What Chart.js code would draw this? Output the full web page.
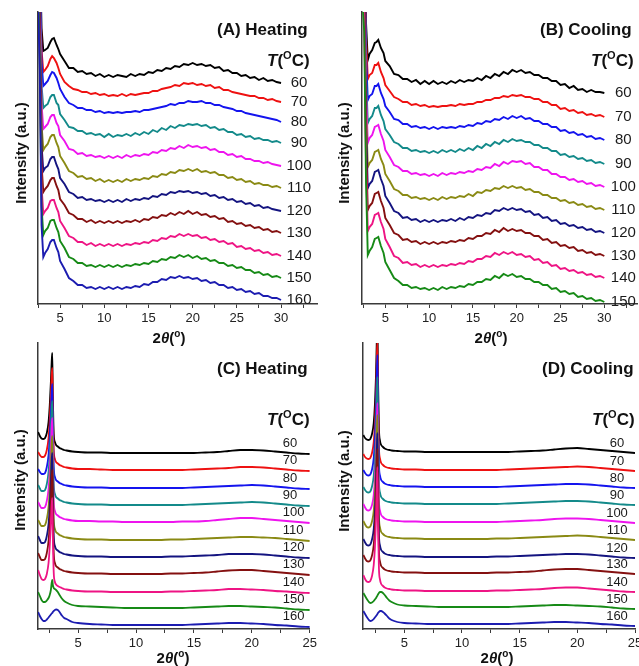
<!DOCTYPE html>
<html>
<head>
<meta charset="utf-8">
<script src="https://cdn.jsdelivr.net/npm/chart.js@4.4.1/dist/chart.umd.min.js"></script>
<style>
html, body { margin: 0; padding: 0; width: 639px; height: 666px; overflow: hidden; background: #fff; }
body { position: relative; font-family: "Liberation Sans", Arial, sans-serif; color: #111; }
.panel { position: absolute; }
.t { position: absolute; font-weight: bold; white-space: nowrap; line-height: 1; }
.head { font-size: 17px; }
.head sup { font-size: 11px; vertical-align: 7px; }
.ax { font-size: 15px; }
.ax sup { font-size: 10px; vertical-align: 6px; }
.rot { transform: translate(-50%, -50%) rotate(-90deg); }
.ctr { transform: translate(-50%, -50%); }
</style>
</head>
<body>
<div class="panel" style="left:0;top:0;width:320px;height:345px"><canvas id="cA"></canvas></div>
<div class="panel" style="left:320px;top:0;width:319px;height:345px"><canvas id="cB"></canvas></div>
<div class="panel" style="left:0;top:335px;width:320px;height:331px"><canvas id="cC"></canvas></div>
<div class="panel" style="left:320px;top:335px;width:330px;height:331px"><canvas id="cD"></canvas></div>

<div class="t head" style="left:217px;top:21px">(A) Heating</div>
<div class="t head" style="left:267px;top:50px"><i>T</i>(<sup>O</sup>C)</div>
<div class="t head" style="left:540px;top:21px">(B) Cooling</div>
<div class="t head" style="left:591px;top:50px"><i>T</i>(<sup>O</sup>C)</div>
<div class="t head" style="left:217px;top:360px">(C) Heating</div>
<div class="t head" style="left:267px;top:409px"><i>T</i>(<sup>O</sup>C)</div>
<div class="t head" style="left:542px;top:360px">(D) Cooling</div>
<div class="t head" style="left:592px;top:409px"><i>T</i>(<sup>O</sup>C)</div>

<div class="t ax rot" style="left:20px;top:153px">Intensity (a.u.)</div>
<div class="t ax rot" style="left:343px;top:153px">Intensity (a.u.)</div>
<div class="t ax rot" style="left:19px;top:480px">Intensity (a.u.)</div>
<div class="t ax rot" style="left:343px;top:481px">Intensity (a.u.)</div>
<div class="t ax ctr" style="left:169px;top:337px">2<i>θ</i>(<sup>o</sup>)</div>
<div class="t ax ctr" style="left:491px;top:337px">2<i>θ</i>(<sup>o</sup>)</div>
<div class="t ax ctr" style="left:173px;top:657px">2<i>θ</i>(<sup>o</sup>)</div>
<div class="t ax ctr" style="left:497px;top:657px">2<i>θ</i>(<sup>o</sup>)</div>

<script>
// temperatures (curve labels)
const tempsHeat = ['60', '70', '80', '90', '100', '110', '120', '130', '140', '150', '160'];
const tempsCoolB = ['60', '70', '80', '90', '100', '110', '120', '130', '140', '150'];

const colors = ['#000000', '#ee1111', '#1414ee', '#138a8a', '#ee14ee', '#8a8a14',
                '#141480', '#841010', '#ee1484', '#168a16', '#1c1cb0'];

// ---- (A) heating, low angle range: 2theta positions
const xA = [2.5, 2.7, 2.9, 3.1, 3.3, 3.6, 3.9, 4.1, 4.3, 4.6,
  4.8, 5, 5.5, 6, 6.5, 7, 7.5, 8, 8.5, 9,
  9.5, 10, 10.5, 11, 11.5, 12, 12.5, 13, 13.5, 14,
  14.5, 15, 15.5, 16, 16.5, 17, 17.5, 18, 18.5, 19,
  19.5, 20, 20.5, 21, 21.5, 22, 22.5, 23, 23.5, 24,
  24.5, 25, 25.5, 26, 26.5, 27, 27.5, 28, 28.5, 29,
  29.5, 30];
// level of each trace at 30 deg (stacked)
const endA = [221, 202, 182, 161, 138, 116, 93, 71, 48, 26, 4];
// intensity above that level
const A60 = [300, 140, 55, 32, 33, 35, 41, 44, 45, 38,
  34, 29, 22, 15, 15, 11, 12, 9, 10, 7,
  9, 6, 8, 6, 8, 7, 6, 9, 7, 9,
  8, 11, 10, 13, 12, 15, 14, 17, 16, 19,
  18, 20, 18, 19, 17, 18, 15, 16, 12, 13,
  10, 10, 7, 8, 5, 6, 3, 5, 2, 3,
  1, 0];
const A70 = [300, 150, 52, 30, 32, 36, 43, 46, 44, 39,
  34, 28, 20, 16, 13, 12, 10, 10, 8, 9,
  7, 8, 6, 7, 6, 8, 6, 8, 7, 8,
  9, 9, 11, 11, 13, 14, 15, 17, 16, 19,
  18, 19, 17, 18, 16, 17, 14, 15, 12, 12,
  10, 9, 8, 7, 6, 6, 4, 4, 2, 3,
  1, 0];
const A80 = [300, 160, 60, 36, 38, 41, 47, 50, 49, 44,
  39, 33, 25, 19, 17, 14, 14, 12, 12, 10,
  11, 9, 10, 9, 10, 9, 10, 10, 11, 10,
  12, 12, 13, 14, 15, 16, 18, 17, 19, 19,
  21, 20, 20, 21, 19, 19, 17, 17, 15, 14,
  13, 11, 11, 9, 8, 7, 6, 5, 4, 3,
  2, 0];
const A90 = [300, 160, 58, 35, 37, 39, 46, 48, 48, 40,
  38, 29, 23, 16, 15, 12, 12, 9, 10, 8,
  9, 6, 9, 6, 8, 7, 9, 7, 10, 8,
  11, 9, 13, 11, 15, 13, 17, 15, 18, 17,
  19, 18, 19, 17, 18, 15, 16, 13, 14, 11,
  11, 8, 9, 6, 7, 4, 5, 3, 3, 1,
  2, 0];
const A100 = [300, 170, 62, 37, 39, 42, 49, 51, 51, 43,
  40, 31, 25, 17, 16, 12, 13, 10, 11, 9,
  10, 8, 10, 8, 10, 8, 11, 9, 11, 10,
  12, 11, 14, 13, 16, 15, 18, 17, 20, 18,
  21, 19, 20, 18, 19, 16, 17, 14, 14, 11,
  12, 9, 10, 7, 7, 5, 5, 3, 4, 2,
  1, 0];
const A110 = [300, 180, 64, 38, 41, 44, 51, 53, 53, 45,
  41, 32, 25, 17, 15, 11, 12, 9, 10, 7,
  9, 6, 8, 6, 8, 6, 9, 7, 9, 8,
  10, 9, 12, 11, 14, 13, 16, 15, 18, 17,
  19, 17, 19, 16, 17, 15, 16, 13, 13, 10,
  11, 8, 9, 6, 7, 4, 5, 3, 3, 1,
  2, 0];
const A120 = [300, 190, 66, 40, 43, 45, 52, 54, 54, 46,
  42, 33, 27, 19, 17, 13, 14, 11, 12, 10,
  11, 9, 11, 9, 11, 9, 12, 10, 12, 11,
  13, 12, 15, 14, 17, 16, 19, 18, 20, 19,
  20, 18, 19, 17, 18, 15, 16, 13, 14, 11,
  12, 9, 10, 7, 8, 5, 6, 3, 4, 2,
  1, 0];
const A130 = [300, 200, 68, 41, 44, 47, 53, 55, 55, 47,
  43, 34, 28, 20, 18, 14, 14, 11, 13, 10,
  12, 10, 12, 10, 12, 10, 12, 11, 13, 11,
  14, 13, 16, 15, 18, 17, 20, 18, 21, 19,
  22, 19, 21, 18, 19, 16, 17, 14, 15, 11,
  12, 9, 10, 7, 8, 5, 6, 3, 4, 1,
  2, 0];
const A140 = [300, 210, 70, 42, 45, 48, 55, 56, 56, 48,
  44, 35, 28, 20, 18, 14, 14, 11, 13, 10,
  12, 10, 12, 10, 12, 10, 12, 11, 13, 12,
  14, 13, 16, 15, 18, 17, 20, 19, 22, 20,
  22, 20, 21, 18, 19, 16, 17, 14, 15, 12,
  13, 9, 10, 7, 8, 5, 6, 3, 4, 1,
  2, 0];
const A150 = [300, 220, 72, 43, 47, 50, 57, 58, 58, 50,
  46, 37, 30, 21, 19, 15, 15, 12, 13, 11,
  13, 11, 13, 11, 13, 11, 13, 12, 14, 13,
  15, 14, 17, 16, 19, 18, 21, 20, 23, 21,
  23, 20, 22, 19, 20, 17, 18, 15, 15, 12,
  13, 10, 11, 8, 8, 5, 6, 3, 4, 1,
  2, 0];
const A160 = [300, 230, 75, 43, 47, 51, 58, 60, 60, 52,
  48, 39, 31, 22, 19, 15, 15, 12, 13, 11,
  13, 11, 13, 11, 13, 11, 13, 12, 14, 13,
  16, 15, 18, 18, 21, 20, 23, 22, 24, 22,
  23, 21, 22, 19, 20, 17, 18, 15, 15, 12,
  13, 10, 11, 8, 9, 6, 7, 4, 4, 2,
  2, 0];

// ---- (B) cooling
const xB = [2.4, 2.6, 2.8, 3.0, 3.2, 3.5, 3.8, 4.0, 4.2, 4.5,
  4.8, 5, 5.5, 6, 6.5, 7, 7.5, 8, 8.5, 9,
  9.5, 10, 10.5, 11, 11.5, 12, 12.5, 13, 13.5, 14,
  14.5, 15, 15.5, 16, 16.5, 17, 17.5, 18, 18.5, 19,
  19.5, 20, 20.5, 21, 21.5, 22, 22.5, 23, 23.5, 24,
  24.5, 25, 25.5, 26, 26.5, 27, 27.5, 28, 28.5, 29,
  29.5, 30];
const endB = [211, 187, 164, 140, 117, 94, 71, 48, 26, 2];
const B60 = [300, 180, 70, 33, 39, 43, 50, 51, 53, 45,
  40, 32, 27, 19, 18, 14, 14, 11, 13, 9,
  12, 9, 12, 9, 11, 9, 12, 10, 13, 11,
  13, 12, 15, 13, 17, 15, 19, 17, 21, 19,
  23, 21, 23, 20, 21, 18, 18, 15, 15, 12,
  12, 8, 9, 5, 7, 3, 4, 1, 3, 1,
  1, 0];
const B70 = [300, 190, 80, 38, 42, 44, 52, 52, 54, 45,
  39, 32, 26, 20, 18, 15, 15, 12, 13, 11,
  12, 10, 11, 10, 11, 11, 12, 11, 13, 12,
  13, 13, 15, 15, 17, 17, 19, 19, 21, 20,
  22, 21, 22, 20, 20, 18, 18, 15, 15, 12,
  12, 8, 9, 6, 7, 4, 5, 2, 3, 1,
  2, 0];
const B80 = [300, 200, 85, 40, 44, 46, 54, 54, 56, 47,
  41, 34, 28, 21, 20, 16, 16, 13, 14, 12,
  13, 11, 13, 11, 13, 12, 13, 12, 14, 13,
  15, 14, 17, 16, 19, 18, 21, 20, 23, 21,
  24, 22, 24, 21, 22, 19, 19, 16, 16, 13,
  13, 9, 10, 7, 8, 5, 6, 3, 4, 1,
  2, 0];
const B90 = [300, 210, 90, 41, 45, 48, 56, 56, 58, 49,
  43, 35, 29, 22, 20, 16, 16, 13, 14, 12,
  13, 11, 13, 11, 14, 12, 14, 12, 15, 13,
  16, 14, 18, 16, 20, 18, 22, 20, 24, 22,
  25, 23, 24, 22, 22, 19, 19, 16, 16, 13,
  13, 9, 10, 7, 8, 5, 6, 3, 4, 1,
  2, 0];
const B100 = [300, 220, 95, 44, 49, 52, 60, 61, 62, 53,
  46, 37, 30, 22, 20, 16, 16, 13, 14, 12,
  13, 11, 13, 11, 14, 12, 14, 13, 15, 14,
  16, 15, 18, 17, 20, 19, 23, 21, 25, 23,
  26, 25, 26, 23, 24, 20, 20, 17, 17, 13,
  13, 10, 10, 7, 8, 5, 6, 3, 4, 1,
  2, 0];
const B110 = [300, 230, 100, 43, 47, 50, 58, 59, 60, 51,
  45, 36, 29, 21, 19, 15, 15, 12, 13, 11,
  12, 10, 12, 10, 13, 11, 13, 12, 14, 13,
  16, 14, 18, 17, 20, 19, 22, 21, 24, 22,
  24, 22, 23, 20, 21, 18, 18, 15, 15, 12,
  12, 9, 10, 7, 8, 5, 6, 3, 4, 1,
  2, 0];
const B120 = [300, 240, 105, 45, 49, 52, 61, 62, 63, 54,
  47, 37, 30, 22, 20, 15, 16, 13, 14, 11,
  13, 11, 13, 11, 13, 12, 14, 12, 15, 13,
  16, 15, 18, 17, 20, 19, 23, 22, 25, 23,
  25, 23, 24, 21, 22, 18, 19, 15, 16, 12,
  13, 9, 10, 7, 8, 5, 6, 3, 4, 1,
  2, 0];
const B130 = [300, 250, 110, 46, 50, 53, 62, 63, 64, 55,
  48, 38, 31, 23, 21, 16, 17, 14, 15, 12,
  14, 12, 14, 12, 14, 13, 15, 14, 16, 15,
  18, 17, 20, 20, 23, 22, 26, 24, 28, 25,
  27, 25, 26, 23, 23, 20, 20, 16, 17, 13,
  14, 10, 11, 8, 9, 5, 6, 3, 4, 1,
  2, 0];
const B140 = [300, 260, 115, 47, 51, 54, 63, 64, 65, 56,
  49, 39, 31, 22, 20, 15, 16, 13, 14, 11,
  13, 11, 13, 11, 13, 12, 14, 13, 15, 14,
  17, 16, 19, 19, 22, 21, 25, 23, 26, 24,
  26, 23, 24, 21, 22, 18, 19, 15, 16, 12,
  13, 9, 10, 7, 8, 5, 6, 3, 4, 1,
  2, 0];
const B150 = [300, 270, 120, 47, 51, 55, 63, 64, 65, 56,
  49, 40, 32, 24, 21, 17, 17, 14, 15, 13,
  14, 12, 14, 12, 15, 13, 15, 14, 16, 15,
  18, 17, 20, 20, 23, 22, 26, 24, 28, 26,
  28, 25, 26, 23, 23, 20, 20, 17, 17, 13,
  14, 10, 11, 8, 9, 5, 6, 3, 4, 1,
  2, 0];

// ---- (C) heating, wide range
const xC = [1.55, 1.7, 1.85, 2.0, 2.15, 2.3, 2.45, 2.55, 2.65, 2.72,
  2.77, 2.82, 2.9, 3.0, 3.1, 3.25, 3.4, 3.6, 3.8, 4.0,
  4.5, 5, 6, 7, 8, 9, 10, 11, 12, 13,
  14, 15, 16, 17, 18, 19, 20, 21, 22, 23,
  24, 25];
const endC = [175, 158, 140, 123, 106, 88, 71, 54, 36, 19, 2];
const C60 = [22, 18, 15.5, 15, 16, 21, 32, 48, 72, 92, 101, 60, 20, 12, 9, 7.5, 6, 5, 4, 3.5, 2.5, 2, 1.5, 1.5, 1, 1, 1, 1, 1, 1, 1, 1, 1.5, 2, 3, 4, 4, 3.5, 2.5, 1.5, 0.5, 0];
const C70 = [19, 16, 14, 14, 15.5, 21, 33, 50, 75, 95, 103, 62, 21, 12, 9, 7.5, 6, 5, 4, 3.5, 2.5, 2, 2, 1.5, 1, 1, 1, 1, 1, 1, 1, 1.5, 2, 2.5, 3, 4, 4, 3.5, 2.5, 1.5, 0.5, 0];
const C80 = [20, 17, 15, 15, 16, 22, 34, 51, 76, 97, 105, 63, 22, 12, 9, 7.5, 6, 5, 4, 3.5, 2.5, 2, 1.5, 1.5, 1, 1, 1, 1, 1, 1, 1, 1.5, 2, 2.5, 3, 3.5, 4, 3.5, 2.5, 1.5, 0.5, 0];
const C90 = [21, 17.5, 15, 15, 16, 22, 34, 51, 76, 97, 105, 63, 22, 12, 9, 7.5, 6, 5, 4, 3.5, 2.5, 2, 1.5, 1.5, 1, 1, 1, 1, 1, 1, 1, 1.5, 2, 2.5, 3, 3.5, 4, 3.5, 2.5, 1.5, 0.5, 0];
const C100 = [21, 17.5, 15, 15, 16, 22, 34, 51, 76, 97, 105, 63, 22, 12, 9, 7.5, 6, 5, 4, 3.5, 2.5, 2, 2, 1.5, 1.5, 1, 1, 1, 1, 1, 1.5, 1.5, 2, 3, 4, 5, 5, 4, 3, 2, 1, 0];
const C110 = [21, 17.5, 15, 15, 16, 22, 34, 51, 76, 97, 105, 63, 22, 12, 9, 7.5, 6, 5, 4, 3.5, 2.5, 2, 1.5, 1.5, 1, 1, 1, 1, 1, 1.5, 1.5, 2, 2.5, 3, 3.5, 4, 4, 3.5, 3, 2, 1, 0];
const C120 = [22, 18, 15, 15, 16, 22, 34, 51, 76, 97, 105, 63, 22, 12, 9, 7.5, 6, 5, 4, 3.5, 2.5, 2, 1.5, 1.5, 1, 1, 1, 1, 1, 1.5, 1.5, 2, 2.5, 3, 4, 4, 4, 3.5, 2.5, 1.5, 0.5, 0];
const C130 = [22, 18, 15, 15, 16, 22, 34, 51, 76, 97, 105, 63, 22, 12, 9, 7.5, 6, 5, 4, 3.5, 2.5, 2, 1.5, 1.5, 1, 1, 1, 1, 1, 1.5, 1.5, 2, 2.5, 3.5, 4.5, 5, 5, 4, 3, 2, 1, 0];
const C140 = [23, 18, 14, 13, 14, 19, 30, 46, 70, 88, 95, 57, 20, 11, 8.5, 7, 6, 5, 4, 3.5, 2.5, 2, 1.5, 1.5, 1, 1, 1, 1, 1, 1.5, 1.5, 2, 2.5, 3, 4, 4, 3.5, 3, 2, 1.5, 0.5, 0];
const C150 = [18, 14, 10, 8, 8, 9.5, 12, 15, 20, 27, 30, 25, 22, 21, 20, 18, 15, 11.5, 9, 7.5, 5, 4, 3.5, 3, 2.5, 2, 2, 2, 2, 2, 2, 2.5, 3, 3.5, 4, 4, 3.5, 3, 2.5, 1.5, 0.5, 0];
const C160 = [15, 11, 8, 6, 6, 7.5, 9.5, 11, 12.5, 13.5, 14, 15, 16, 17, 17.5, 17, 15, 11.5, 9, 8, 5, 4, 3, 2.5, 2, 2, 2, 2, 2, 2, 2, 2.5, 3, 3.5, 4, 4, 3.5, 3, 2, 1.5, 0.5, 0];

// ---- (D) cooling, wide range
const xD = [1.45, 1.6, 1.75, 1.9, 2.05, 2.2, 2.35, 2.45, 2.55, 2.62,
  2.67, 2.72, 2.8, 2.9, 3.0, 3.15, 3.3, 3.5, 3.7, 3.9,
  4.4, 5, 6, 7, 8, 9, 10, 11, 12, 13,
  14, 15, 16, 17, 18, 19, 20, 21, 22, 23,
  24, 25];
const endD = [176, 158, 141, 124, 106, 89, 71, 55, 37, 20, 3];
const D60 = [18, 15, 13.5, 13, 14, 19, 30, 48, 80, 115, 135, 75, 25, 12, 8, 6, 4.5, 3.5, 3, 2.5, 2, 1.5, 1.5, 1, 1, 1, 1, 1, 1, 1, 1, 1.5, 2, 2.5, 3.5, 4.5, 5, 4, 3, 2, 1, 0];
const D70 = [17, 14, 12.5, 12, 13, 18, 29, 47, 78, 112, 130, 73, 24, 12, 8, 6, 4.5, 3.5, 3, 2.5, 2, 1.5, 1.5, 1, 1, 1, 1, 1, 1, 1, 1.5, 2, 2.5, 3, 3.5, 4, 4.5, 4, 3, 2, 1, 0];
const D80 = [18, 15, 13, 12.5, 13.5, 18.5, 30, 48, 80, 114, 133, 74, 24, 12, 8, 6, 4.5, 3.5, 3, 2.5, 2, 1.5, 1.5, 1, 1, 1, 1, 1, 1, 1, 1.5, 2, 2.5, 3, 3.5, 4, 4, 3.5, 2.5, 1.5, 0.5, 0];
const D90 = [18, 15, 13, 12.5, 13.5, 18.5, 29, 46, 77, 110, 128, 72, 24, 12, 8, 6, 4.5, 3.5, 3, 2.5, 2, 1.5, 1.5, 1, 1, 1, 1, 1, 1, 1, 1.5, 2, 2.5, 3, 3.5, 4, 4, 3.5, 2.5, 1.5, 0.5, 0];
const D100 = [19, 15.5, 13, 12.5, 13.5, 18, 28, 44, 73, 104, 120, 68, 23, 12, 8, 6, 4.5, 3.5, 3, 2.5, 2, 1.5, 1.5, 1, 1, 1, 1, 1, 1, 1, 1.5, 2, 2.5, 3, 4, 4.5, 4.5, 4, 3, 2, 1, 0];
const D110 = [19, 15.5, 13, 12.5, 13.5, 18.5, 29, 46, 76, 108, 125, 70, 24, 12, 8, 6, 4.5, 3.5, 3, 2.5, 2, 1.5, 1.5, 1, 1, 1, 1, 1, 1, 1.5, 1.5, 2, 2.5, 3, 3.5, 4, 4.5, 4, 3, 2, 1, 0];
const D120 = [19, 15.5, 13, 12.5, 13.5, 18.5, 29, 46, 76, 108, 125, 70, 24, 12, 8, 6, 4.5, 3.5, 3, 2.5, 2, 1.5, 1.5, 1, 1, 1, 1, 1, 1, 1.5, 1.5, 2, 2.5, 3, 3.5, 4, 4, 3.5, 2.5, 1.5, 0.5, 0];
const D130 = [19, 15.5, 13, 12.5, 13.5, 18.5, 29, 46, 76, 108, 125, 70, 24, 12, 8, 6, 4.5, 3.5, 3, 2.5, 2, 1.5, 1.5, 1, 1, 1, 1, 1, 1, 1.5, 1.5, 2, 2.5, 3.5, 4.5, 5, 5, 4, 3, 2, 1, 0];
const D140 = [17, 13, 10.5, 10, 11, 16, 27, 44, 75, 108, 125, 70, 24, 12, 8, 6, 4.5, 3.5, 3, 2.5, 2, 1.5, 1.5, 1, 1, 1, 1, 1, 1, 1.5, 1.5, 2, 2.5, 3, 4, 4.5, 4.5, 3.5, 2.5, 1.5, 0.5, 0];
const D150 = [16, 13, 10, 7.5, 6, 6.5, 8, 9.5, 11, 12.5, 13.5, 14.5, 16, 17, 17, 16, 14, 11, 8.5, 7, 4.5, 3.5, 3, 2.5, 2, 2, 2, 2, 2, 2, 2, 2.5, 3, 3.5, 4, 4, 3.5, 3, 2.5, 1.5, 0.5, 0];
const D160 = [15, 12, 9, 6.5, 5, 5.5, 7, 8.5, 10, 11, 12, 13, 14, 15, 15, 14, 12.5, 10, 7.5, 6, 4, 3, 2.5, 2, 2, 2, 2, 2, 2, 2, 2, 2.5, 3, 3.5, 4, 4, 3.5, 3, 2, 1.5, 0.5, 0];

Chart.defaults.font.family = '"Liberation Sans", Arial, sans-serif';

// writes the temperature next to the end of each trace
const curveLabels = {
    id: 'curveLabels',
    afterDatasetsDraw(chart, args, o) {
        const ctx = chart.ctx;
        ctx.save();
        ctx.font = o.size + 'px "Liberation Sans", Arial, sans-serif';
        ctx.fillStyle = '#1a1a1a';
        ctx.textAlign = o.align;
        ctx.textBaseline = 'middle';
        chart.data.datasets.forEach((ds, i) => {
            const pts = chart.getDatasetMeta(i).data;
            const p = pts[pts.length - 1];
            ctx.fillText(ds.label, p.x + o.dx, p.y + o.dy);
        });
        ctx.restore();
    }
};

function drawPanel(id, xs, ends, curves, labels, o) {
    const datasets = curves.map((c, i) => ({
        label: labels[i],
        data: xs.map((x, j) => ({x: x, y: ends[i] + c[j]})),
        borderColor: colors[i],
        borderWidth: o.lw,
        pointRadius: 0,
        tension: 0,
        cubicInterpolationMode: o.smooth ? 'monotone' : 'default',
        order: curves.length - i
    }));
    new Chart(document.getElementById(id), {
        type: 'line',
        data: {datasets: datasets},
        options: {
            responsive: true,
            maintainAspectRatio: false,
            animation: false,
            layout: {padding: o.pad},
            plugins: {
                legend: {display: false},
                tooltip: {enabled: false},
                curveLabels: o.lab
            },
            scales: {
                x: {
                    type: 'linear',
                    min: o.xmin,
                    max: o.xmax,
                    afterFit: s => { s.height = 30; },
                    border: {color: '#3a3a3a', width: 1.5},
                    grid: {drawOnChartArea: false, drawTicks: true, tickLength: 4, color: '#3a3a3a', lineWidth: 1},
                    ticks: {
                        stepSize: 2.5, includeBounds: false, autoSkip: false, maxRotation: 0,
                        padding: 3, color: '#222', font: {size: 13},
                        callback: v => (Math.abs(v % 5) < 1e-6 ? v : '')
                    }
                },
                y: {
                    min: 0,
                    max: o.ymax,
                    afterFit: s => { s.width = o.yw; },
                    grid: {display: false},
                    ticks: {display: false},
                    border: {color: '#3a3a3a', width: 1.5}
                }
            }
        },
        plugins: [curveLabels]
    });
}

drawPanel('cA', xA, endA, [A60, A70, A80, A90, A100, A110, A120, A130, A140, A150, A160], tempsHeat, {
    xmin: 2.5, xmax: 34.07, ymax: 292, yw: 38, lw: 1.9,
    pad: {left: 0, top: 12, right: 3, bottom: 11},
    lab: {dx: 18, dy: 0, size: 15, align: 'center'}
});
drawPanel('cB', xB, endB, [B60, B70, B80, B90, B100, B110, B120, B130, B140, B150], tempsCoolB, {
    xmin: 2.34, xmax: 33.73, ymax: 292, yw: 42, lw: 1.9,
    pad: {left: 0, top: 12, right: 2, bottom: 11},
    lab: {dx: 19, dy: 0, size: 15, align: 'center'}
});
drawPanel('cC', xC, endC, [C60, C70, C80, C90, C100, C110, C120, C130, C140, C150, C160], tempsHeat, {
    xmin: 1.54, xmax: 25, ymax: 286, yw: 38, lw: 1.8, smooth: true,
    pad: {left: 0, top: 8, right: 10, bottom: 7},
    lab: {dx: -27, dy: -11, size: 13, align: 'left'}
});
drawPanel('cD', xD, endD, [D60, D70, D80, D90, D100, D110, D120, D130, D140, D150, D160], tempsHeat, {
    xmin: 1.42, xmax: 25, ymax: 286, yw: 43, lw: 1.8, smooth: true,
    pad: {left: 0, top: 8, right: 15, bottom: 7},
    lab: {dx: -18, dy: -10, size: 13, align: 'center'}
});
</script>
</body>
</html>
